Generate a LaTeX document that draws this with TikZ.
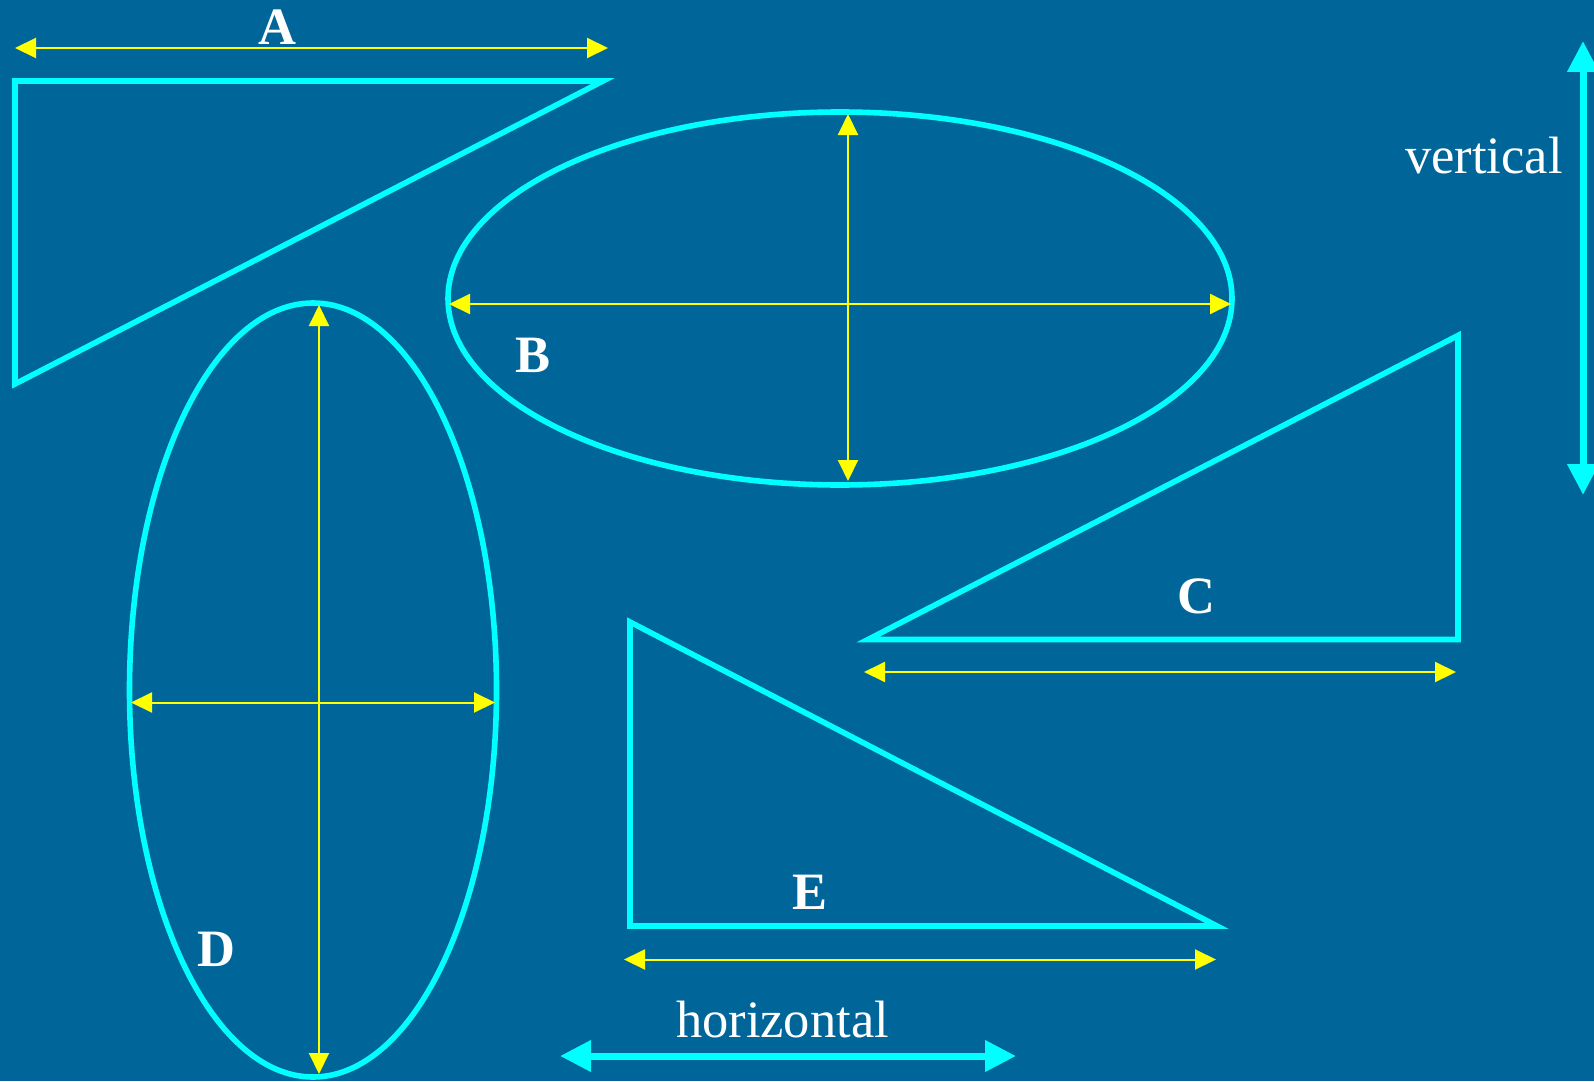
\documentclass[tikz,border=0pt]{standalone}
\usepackage{fontspec}
\setmainfont{Liberation Serif}
\usetikzlibrary{arrows.meta}
\definecolor{bg}{RGB}{0,102,153}
\definecolor{cyanline}{RGB}{0,255,255}
\definecolor{yel}{RGB}{255,255,0}
\tikzset{
  shape line/.style={draw=cyanline, line width=2.8pt},
  dimarrow/.style={draw=yel, line width=1pt, {Triangle[length=10.5pt,width=10pt]}-{Triangle[length=10.5pt,width=10pt]}},
  bigarrow/.style={draw=cyanline, line width=3.5pt, {Triangle[length=15.5pt,width=15pt]}-{Triangle[length=15.5pt,width=15pt]}},
  lbl/.style={text=white, inner sep=0pt, font=\fontsize{26.25}{30}\selectfont\bfseries, anchor=base},
  word/.style={text=white, inner sep=0pt, font=\fontsize{26.25}{30}\selectfont}
}
\begin{document}
\begin{tikzpicture}[x=0.5pt,y=-0.5pt]
\path[fill=bg, use as bounding box] (0,0) rectangle (1594,1081);

% Triangle A
\draw[shape line] (15,81) -- (603,81) -- (15,384) -- cycle;
\coordinate (a1) at (15,48);
\coordinate (a2) at (608,48);
\draw[dimarrow] (a1) -- (a2);
\node[lbl] (labA) at (277,45) {A};

% Ellipse B
\draw[shape line] (840,298.5) ellipse [x radius=196pt, y radius=93.25pt];
\coordinate (bl) at (449,304);
\coordinate (br) at (1231,304);
\coordinate (bt) at (848,114);
\coordinate (bb) at (848,481);
\draw[dimarrow] (bl) -- (br);
\draw[dimarrow] (bt) -- (bb);
\node[lbl] (labB) at (533,372) {B};

% Ellipse D
\draw[shape line] (313,690) ellipse [x radius=91.75pt, y radius=193.5pt];
\coordinate (dl) at (131,702.5);
\coordinate (dr) at (495,702.5);
\coordinate (dt) at (319,305);
\coordinate (db) at (319,1074);
\draw[dimarrow] (dl) -- (dr);
\draw[dimarrow] (dt) -- (db);
\node[lbl] (labD) at (216.5,966) {D};

% Triangle C
\draw[shape line] (868,639.5) -- (1458,639.5) -- (1458,335.5) -- cycle;
\coordinate (c1) at (864,672);
\coordinate (c2) at (1456,672);
\draw[dimarrow] (c1) -- (c2);
\node[lbl] (labC) at (1196.5,613) {C};

% Triangle E
\draw[shape line] (630,622) -- (630,926) -- (1217,926) -- cycle;
\coordinate (e1) at (624,959.5);
\coordinate (e2) at (1216,959.5);
\draw[dimarrow] (e1) -- (e2);
\node[lbl] (labE) at (810,909) {E};

% vertical
\coordinate (v1) at (1583,41);
\coordinate (v2) at (1583,495);
\draw[bigarrow] (v1) -- (v2);
\node[word, anchor=base east] (vert) at (1563,173) {vertical};

% horizontal
\coordinate (h1) at (560,1056);
\coordinate (h2) at (1016,1056);
\draw[bigarrow] (h1) -- (h2);
\node[word, anchor=base] (horiz) at (782.5,1037) {horizontal};
\end{tikzpicture}
\end{document}
